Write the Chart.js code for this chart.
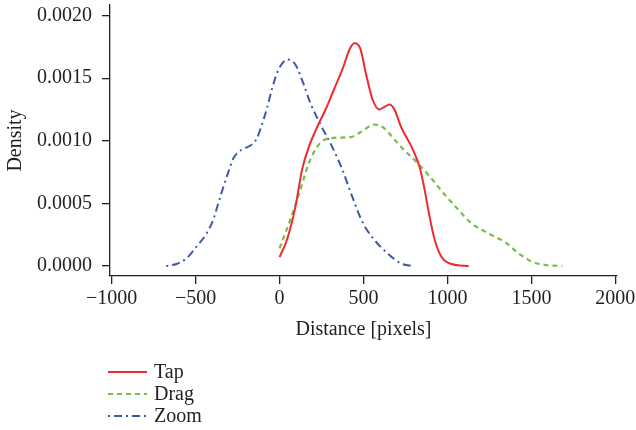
<!DOCTYPE html>
<html>
<head>
<meta charset="utf-8">
<script src="https://cdn.jsdelivr.net/npm/chart.js@4/dist/chart.umd.min.js"></script>
<style>
  html, body { margin: 0; padding: 0; background: #ffffff; }
  #wrap { width: 636px; height: 430px; }
</style>
</head>
<body>
<div id="wrap"><canvas id="c" width="636" height="430"></canvas></div>
<script>
// Kernel density estimates of gesture distance
const tapX  = [0, 44, 94, 134, 174, 224, 274, 324, 374, 420, 448, 480, 514, 554, 594, 624, 654, 684, 724, 794, 834, 864, 894, 924, 964, 1024, 1127];
const tapY  = [0.00007, 0.00021, 0.00047, 0.00077, 0.00095, 0.00111, 0.00125, 0.00141, 0.00157, 0.00174, 0.00178, 0.00174, 0.00154, 0.00133, 0.00125, 0.00127, 0.00129, 0.00125, 0.00111, 0.00093, 0.00079, 0.00061, 0.00039, 0.00021, 0.000074, 0.000016, 0.0];

const dragX = [0, 64, 124, 174, 234, 294, 424, 484, 564, 624, 684, 754, 824, 904, 984, 1064, 1144, 1244, 1344, 1424, 1504, 1584, 1684];
const dragY = [0.00014, 0.00037, 0.00061, 0.00082, 0.00097, 0.00102, 0.00103, 0.00107, 0.00113, 0.0011, 0.00101, 0.00091, 0.00082, 0.0007, 0.00057, 0.00045, 0.00034, 0.00026, 0.00019, 0.0001, 0.000034, 0.000008, 0.0];

const zoomX = [-675, -615, -555, -495, -435, -395, -365, -335, -305, -275, -225, -176, -135, -105, -75, -46, -6, 50, 94, 144, 184, 244, 314, 374, 434, 494, 564, 644, 724, 794];
const zoomY = [0.0, 0.000016, 0.00006, 0.000154, 0.00026, 0.00037, 0.0005, 0.00063, 0.00075, 0.00086, 0.00093, 0.00096, 0.00102, 0.00113, 0.00126, 0.00141, 0.00157, 0.00165, 0.00161, 0.00145, 0.0013, 0.00113, 0.00095, 0.00077, 0.00055, 0.00035, 0.00021, 0.0001, 0.00002, 0.0];

const seriesNames = ['Tap', 'Drag', 'Zoom'];
const xTicks = [-1000, -500, 0, 500, 1000, 1500, 2000];
const yTicks = [0.0000, 0.0005, 0.0010, 0.0015, 0.0020];

const SERIF = '"Liberation Serif", "DejaVu Serif", serif';
const INK = '#231f20';

const pts = (xs, ys) => xs.map((x, i) => ({ x: x, y: ys[i] }));

// Legend stacked below the plot, drawn with each dataset's own stroke style
const stackedLegend = {
  id: 'stackedLegend',
  afterDraw(chart) {
    const ctx = chart.ctx;
    const x0 = 108, x1 = 147, tx = 154, top = 372, step = 22;
    chart.data.datasets.forEach((ds, i) => {
      const y = top + i * step;
      ctx.save();
      ctx.strokeStyle = ds.borderColor;
      ctx.lineWidth = ds.borderWidth;
      ctx.setLineDash(ds.borderDash || []);
      ctx.beginPath();
      ctx.moveTo(x0, y);
      ctx.lineTo(x1, y);
      ctx.stroke();
      ctx.setLineDash([]);
      ctx.fillStyle = INK;
      ctx.font = '20px ' + SERIF;
      ctx.textAlign = 'left';
      ctx.textBaseline = 'middle';
      ctx.fillText(ds.label, tx, y + 1);
      ctx.restore();
    });
  }
};

const minusSign = s => String(s).replace('-', '\u2212');

new Chart(document.getElementById('c'), {
  type: 'line',
  data: {
    datasets: [
      { label: seriesNames[0], data: pts(tapX, tapY), borderColor: '#ee2b2f', borderWidth: 2, borderDash: [] },
      { label: seriesNames[1], data: pts(dragX, dragY), borderColor: '#74c046', borderWidth: 2.2, borderDash: [5, 4] },
      { label: seriesNames[2], data: pts(zoomX, zoomY), borderColor: '#3f58a8', borderWidth: 2, borderDash: [2, 4, 8, 4] }
    ]
  },
  options: {
    responsive: false,
    animation: false,
    devicePixelRatio: 1,
    cubicInterpolationMode: 'monotone',
    elements: { point: { radius: 0, hoverRadius: 0 }, line: { tension: 0.4, fill: false } },
    layout: { padding: { top: 5, right: 19, bottom: 88, left: 0 } },
    plugins: { legend: { display: false }, tooltip: { enabled: false } },
    scales: {
      x: {
        type: 'linear',
        min: -1010,
        max: 2010,
        afterBuildTicks: s => { s.ticks = xTicks.map(v => ({ value: v })); },
        afterFit: s => { s.height = 66; s.paddingLeft = 0; s.paddingRight = 0; },
        border: { display: true, color: INK, width: 1.3 },
        grid: { display: true, drawOnChartArea: false, drawTicks: true, tickLength: 8, color: INK, lineWidth: 1.3 },
        ticks: {
          color: INK, padding: 3, maxRotation: 0, autoSkip: false,
          font: { family: SERIF, size: 20 },
          callback: v => minusSign(v)
        },
        title: { display: true, text: 'Distance [pixels]', color: INK, font: { family: SERIF, size: 20 }, padding: { top: 0, bottom: 0 } }
      },
      y: {
        type: 'linear',
        min: -0.00008,
        max: 0.002085,
        afterBuildTicks: s => { s.ticks = yTicks.map(v => ({ value: v })); },
        afterFit: s => { s.width = 110; s.paddingTop = 0; s.paddingBottom = 0; },
        border: { display: true, color: INK, width: 1.3 },
        grid: { display: true, drawOnChartArea: false, drawTicks: true, tickLength: 8, color: INK, lineWidth: 1.3 },
        ticks: {
          color: INK, padding: 10, autoSkip: false,
          font: { family: SERIF, size: 20 },
          callback: v => Number(v).toFixed(4)
        },
        title: { display: true, text: 'Density', color: INK, font: { family: SERIF, size: 20 }, padding: { top: 4, bottom: 0 } }
      }
    }
  },
  plugins: [stackedLegend]
});
</script>
</body>
</html>
